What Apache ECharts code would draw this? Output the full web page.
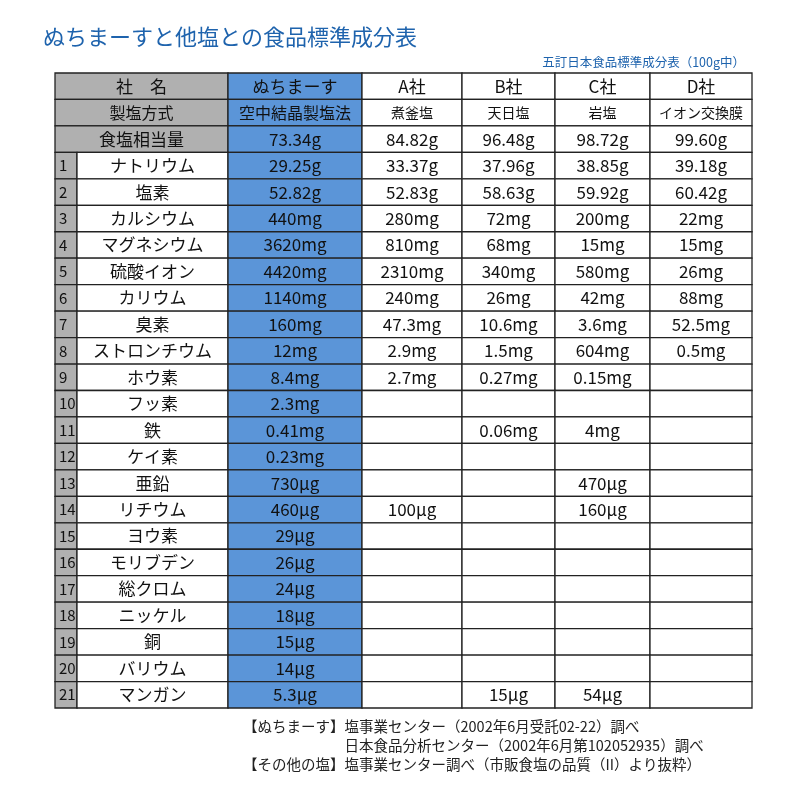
<!DOCTYPE html>
<html><head><meta charset="utf-8">
<script src="https://cdn.jsdelivr.net/npm/echarts@6/dist/echarts.min.js"></script>
<style>html,body{margin:0;background:#fff}#c{width:800px;height:800px}</style>
</head><body><div id="c"></div>
<script>
const headerLabels = ['社　名','製塩方式','食塩相当量'];
const companies = ['ぬちまーす','A社','B社','C社','D社'];
const methods = ['空中結晶製塩法','煮釜塩','天日塩','岩塩','イオン交換膜'];
const saltEquiv = ['73.34g','84.82g','96.48g','98.72g','99.60g'];
const elements = ['ナトリウム','塩素','カルシウム','マグネシウム','硫酸イオン','カリウム','臭素','ストロンチウム','ホウ素','フッ素','鉄','ケイ素','亜鉛','リチウム','ヨウ素','モリブデン','総クロム','ニッケル','銅','バリウム','マンガン'];
const nuchimasu = ['29.25g','52.82g','440mg','3620mg','4420mg','1140mg','160mg','12mg','8.4mg','2.3mg','0.41mg','0.23mg','730μg','460μg','29μg','26μg','24μg','18μg','15μg','14μg','5.3μg'];
const compA = ['33.37g','52.83g','280mg','810mg','2310mg','240mg','47.3mg','2.9mg','2.7mg','','','','','100μg','','','','','','',''];
const compB = ['37.96g','58.63g','72mg','68mg','340mg','26mg','10.6mg','1.5mg','0.27mg','','0.06mg','','','','','','','','','','15μg'];
const compC = ['38.85g','59.92g','200mg','15mg','580mg','42mg','3.6mg','604mg','0.15mg','','4mg','','470μg','160μg','','','','','','','54μg'];
const compD = ['39.18g','60.42g','22mg','15mg','26mg','88mg','52.5mg','0.5mg','','','','','','','','','','','','',''];

const edges = [55,77,228,362,462,555,650,752];
const GRAY='#b0b0b0', BLUE='#5b95d8', WHITE='#ffffff';
const cells = [];
function add(x0,x1,row,text,fill){cells.push({x0,x1,row,text,fill});}
const valueCols=[nuchimasu,compA,compB,compC,compD];
const headRows=[companies,methods,saltEquiv];
for(let r=0;r<3;r++){
  add(edges[0],edges[2],r,headerLabels[r],GRAY);
  for(let c=0;c<5;c++) add(edges[c+2],edges[c+3],r,headRows[r][c],c===0?BLUE:WHITE);
}
elements.forEach((e,i)=>{
  const r=i+3;
  add(edges[0],edges[1],r,String(i+1),GRAY);
  add(edges[1],edges[2],r,e,WHITE);
  for(let c=0;c<5;c++) add(edges[c+2],edges[c+3],r,valueCols[c][i],c===0?BLUE:WHITE);
});

const chart=echarts.init(document.getElementById('c'));
const F='"Noto Sans CJK JP", sans-serif';
chart.setOption({
  backgroundColor:'#fff',
  animation:false,
  grid:{left:55,right:48,top:73,bottom:92},
  xAxis:{type:'value',min:55,max:752,show:false},
  yAxis:{type:'value',min:0,max:24,inverse:true,show:false},
  title:[
    {text:'ぬちまーすと他塩との食品標準成分表',left:38,top:21,textStyle:{fontFamily:F,fontSize:22,fontWeight:'normal',color:'#1e63ad'}},
    {text:'五訂日本食品標準成分表（100g中）',right:50,top:51,textStyle:{fontFamily:F,fontSize:12.5,fontWeight:'normal',color:'#1e63ad'}}
  ],
  graphic:[
    {type:'text',left:243,top:717,style:{text:'【ぬちまーす】塩事業センター（2002年6月受託02-22）調べ\n　　　　　　　日本食品分析センター（2002年6月第102052935）調べ\n【その他の塩】塩事業センター調べ（市販食塩の品質（II）より抜粋）',font:'14.5px '+F,fill:'#222',lineHeight:19}}
  ],
  series:[{
    type:'custom',
    data:cells.map(c=>[c.x0,c.row]),
    renderItem:(params,api)=>{
      const c=cells[params.dataIndex];
      const p0=api.coord([c.x0,c.row]), p1=api.coord([c.x1,c.row+1]);
      const isNum=c.x1===edges[1];
      const size=c.row===1?(c.x0>=edges[3]?14:16):(isNum?15:17);
      return {type:'group',children:[
        {type:'rect',shape:{x:p0[0],y:p0[1],width:p1[0]-p0[0],height:p1[1]-p0[1]},style:{fill:c.fill,stroke:'#222',lineWidth:1.3}},
        {type:'text',style:{text:c.text,x:isNum?p0[0]+4:(p0[0]+p1[0])/2,y:(p0[1]+p1[1])/2,align:isNum?'left':'center',verticalAlign:'middle',font:size+'px '+F,fill:'#111'}}
      ]};
    }
  }]
});
</script></body></html>
